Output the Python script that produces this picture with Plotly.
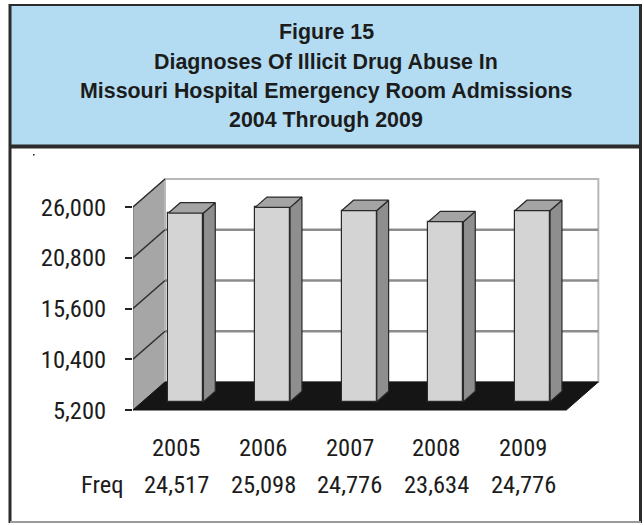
import plotly.graph_objects as go

# ---------------- data ----------------
years = ["2005", "2006", "2007", "2008", "2009"]
freq = [24517, 25098, 24776, 23634, 24776]
ytick_vals = [5200, 10400, 15600, 20800, 26000]
ytick_text = ["5,200", "10,400", "15,600", "20,800", "26,000"]
title_lines = [
    "Figure 15",
    "Diagnoses Of Illicit Drug Abuse In",
    "Missouri Hospital Emergency Room Admissions",
    "2004 Through 2009",
]
row_label = "Freq"

# ---------------- geometry ----------------
W, H = 644, 525
ML, MR, MT, MB = 133, 43, 175, 113
PW = W - ML - MR
PH = H - MT - MB
Y0, Y1 = ytick_vals[0], ytick_vals[-1]
k = (410 - 207) / (Y1 - Y0)            # px per unit on front axis
y_lo = Y0 - ((H - MB) - 410) / k
y_hi = Y1 + (207 - MT) / k
x_lo, x_hi = -0.5, 4.9
sx = PW / (x_hi - x_lo)
DX = 32 / sx                              # full depth, x units
DY = 28 / k                               # full depth, y units
n = len(years)
xl_front, xr_front = -0.5, n - 0.5


def xp(px):
    return (px - ML) / PW


def yp(py):
    return ((H - MB) - py) / PH


NARROW = "Roboto Condensed, Liberation Sans Narrow, Arial Narrow, Liberation Sans"
BOLD = "Liberation Sans, Arial"
TXT = "#1c1c1c"

shapes = []
# title box
shapes.append(dict(type="rect", xref="paper", yref="paper", x0=xp(10), x1=xp(641),
                   y0=yp(146), y1=yp(5), fillcolor="#B3DCF2", line=dict(width=0), layer="below"))


def pline(x0, y0, x1, y1, color, width):
    shapes.append(dict(type="line", xref="paper", yref="paper", x0=xp(x0), y0=yp(y0),
                       x1=xp(x1), y1=yp(y1), line=dict(color=color, width=width), layer="above"))


pline(10, 5, 641, 5, "#2b2b2b", 2)
pline(10, 4, 10, 523, "#2b2b2b", 3)
pline(640.5, 4, 640.5, 523, "#2b2b2b", 3)
pline(10, 146.5, 641, 146.5, "#2b2b2b", 4)
pline(10, 522, 641, 522, "#9a9a9a", 2)
# tiny speck seen under the title box
shapes.append(dict(type="rect", xref="paper", yref="paper", x0=xp(33), x1=xp(34.5),
                   y0=yp(155.5), y1=yp(154), fillcolor="#222", line=dict(width=0)))

# left wall
shapes.append(dict(type="path", xref="x", yref="y",
                   path=f"M {xl_front},{Y0} L {xl_front},{Y1} L {xl_front+DX},{Y1+DY} L {xl_front+DX},{Y0+DY} Z",
                   fillcolor="#A6A6A6", line=dict(color="#6a6a6a", width=1), layer="below"))
# back wall
shapes.append(dict(type="rect", xref="x", yref="y", x0=xl_front + DX, x1=xr_front + DX,
                   y0=Y0 + DY, y1=Y1 + DY, fillcolor="white",
                   line=dict(color="#B8B8B8", width=2), layer="below"))
# gridlines on back wall
for v in ytick_vals[1:-1]:
    shapes.append(dict(type="line", xref="x", yref="y", x0=xl_front + DX, x1=xr_front + DX,
                       y0=v + DY, y1=v + DY, line=dict(color="#8C8C8C", width=2.5), layer="below"))
# gridlines on left wall
for v in ytick_vals[1:]:
    shapes.append(dict(type="line", xref="x", yref="y", x0=xl_front, x1=xl_front + DX,
                       y0=v, y1=v + DY, line=dict(color="#303030", width=1.5), layer="below"))
# floor
shapes.append(dict(type="path", xref="x", yref="y",
                   path=f"M {xl_front},{Y0} L {xr_front},{Y0} L {xr_front+DX},{Y0+DY} L {xl_front+DX},{Y0+DY} Z",
                   fillcolor="#151515", line=dict(color="#151515", width=1), layer="below"))

# ---------------- bars ----------------
f = 0.30          # depth position of bar front
bd = 0.37         # bar depth fraction
BW = 35 / sx
bx = [i + f * DX for i in range(n)]
base = Y0 + f * DY
heights = [v - Y0 for v in freq]
bdx, bdy = bd * DX, bd * DY

fig = go.Figure()
fig.add_trace(go.Bar(x=bx, y=heights, base=base, width=BW,
                     marker=dict(color="#D4D4D4", line=dict(color="#2a2a2a", width=1.2)),
                     hoverinfo="skip", showlegend=False))

side_x, side_y, top_x, top_y = [], [], [], []
for cx, v in zip(bx, freq):
    xl, xr = cx - BW / 2, cx + BW / 2
    t = v + f * DY
    side_x += [xr, xr + bdx, xr + bdx, xr, xr, None]
    side_y += [base, base + bdy, t + bdy, t, base, None]
    top_x += [xl, xl + bdx, xr + bdx, xr, xl, None]
    top_y += [t, t + bdy, t + bdy, t, t, None]

fig.add_trace(go.Scatter(x=side_x, y=side_y, mode="lines", fill="toself", fillcolor="#8E8E8E",
                         line=dict(color="#2a2a2a", width=1.2), hoverinfo="skip", showlegend=False))
fig.add_trace(go.Scatter(x=top_x, y=top_y, mode="lines", fill="toself", fillcolor="#A4A4A4",
                         line=dict(color="#2a2a2a", width=1.2), hoverinfo="skip", showlegend=False))

# ---------------- annotations ----------------
annotations = []
title_y = [32.5, 62, 91, 120]
for txt, py in zip(title_lines, title_y):
    annotations.append(dict(text=f"<b>{txt}</b>", xref="paper", yref="paper", x=xp(326), y=yp(py),
                            xanchor="center", yanchor="middle", showarrow=False,
                            font=dict(family=BOLD, size=21.4, color=TXT)))
for i, (yr, v) in enumerate(zip(years, freq)):
    annotations.append(dict(text=yr, xref="x", yref="paper", x=i, y=yp(447),
                            xanchor="center", yanchor="middle", showarrow=False,
                            font=dict(family=NARROW, size=24.5, color=TXT)))
    annotations.append(dict(text=f"{v:,}", xref="x", yref="paper", x=i, y=yp(484),
                            xanchor="center", yanchor="middle", showarrow=False,
                            font=dict(family=NARROW, size=24.5, color=TXT)))
annotations.append(dict(text=row_label, xref="paper", yref="paper", x=xp(125), y=yp(484),
                        xanchor="right", yanchor="middle", showarrow=False,
                        font=dict(family=NARROW, size=24.5, color=TXT)))

fig.update_layout(
    width=W, height=H,
    margin=dict(l=ML, r=MR, t=MT, b=MB, pad=0),
    paper_bgcolor="white", plot_bgcolor="white",
    shapes=shapes, annotations=annotations,
    bargap=0, showlegend=False,
    xaxis=dict(range=[x_lo, x_hi], visible=False, fixedrange=True),
    yaxis=dict(range=[y_lo, y_hi], tickvals=ytick_vals, ticktext=ytick_text,
               ticks="outside", ticklen=7, tickwidth=2, tickcolor="#222",
               showgrid=False, zeroline=False, showline=False, fixedrange=True,
               ticklabelstandoff=14,
               tickfont=dict(family=NARROW, size=24.5, color=TXT)),
)

fig.write_html("out.html", config={"displayModeBar": False},
               post_script="document.body.style.margin='0';")
